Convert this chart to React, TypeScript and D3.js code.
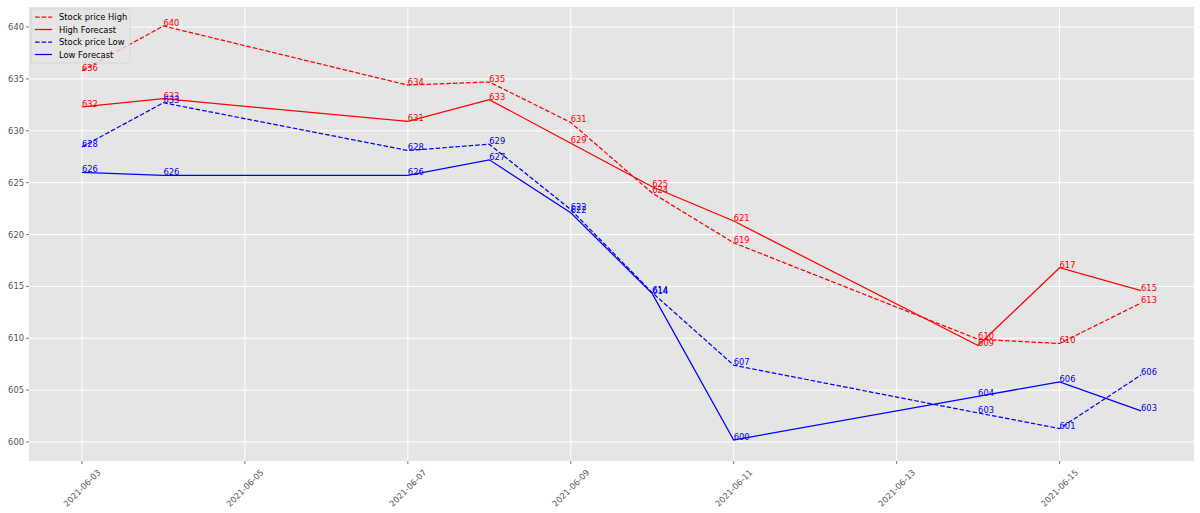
import * as React from 'react';
import * as d3 from 'd3';

// values
const dates = ["2021-06-03", "2021-06-04", "2021-06-07", "2021-06-08", "2021-06-09", "2021-06-10", "2021-06-11", "2021-06-14", "2021-06-15", "2021-06-16"];
const highStock = [635.8, 640.1, 634.4, 634.7, 630.8, 624.0, 619.2, 609.9, 609.5, 613.4];
const highForecast = [632.3, 633.1, 630.9, 633.0, 628.8, 624.6, 621.3, 609.3, 616.8, 614.6];
const lowStock = [628.45, 632.7, 628.1, 628.7, 622.4, 614.4, 607.4, 602.8, 601.3, 606.46];
const lowForecast = [626.0, 625.7, 625.7, 627.2, 622.1, 614.3, 600.2, 604.4, 605.8, 603.0];
const yLimits = [598.17, 641.93];
const yTicks = [600, 605, 610, 615, 620, 625, 630, 635, 640];

const seriesNames = ["Stock price High", "High Forecast", "Stock price Low", "Low Forecast"];
const seriesValues = [highStock, highForecast, lowStock, lowForecast];
const seriesColors = ["#ff0000", "#ff0000", "#0000ff", "#0000ff"];
const seriesDashed = [true, false, true, false];

const W = 1200;
const H = 513;
const plot = { left: 29, right: 1194, top: 7, bottom: 461 };
const fontSize = 8.33;
const font = "'DejaVu Sans', sans-serif";

const App: React.FC = () => {
  const svgRef = React.useRef<SVGSVGElement>(null);

  React.useEffect(() => {
    const svg = d3.select(svgRef.current);
    svg.selectAll("*").remove();

    const parse = d3.utcParse("%Y-%m-%d");
    const xs = dates.map((d) => parse(d) as Date);
    const [x0, x1] = d3.extent(xs) as [Date, Date];
    const pad = (x1.getTime() - x0.getTime()) * 0.05;

    const xScale = d3.scaleUtc()
      .domain([new Date(x0.getTime() - pad), new Date(x1.getTime() + pad)])
      .range([plot.left, plot.right]);

    const yScale = d3.scaleLinear()
      .domain(yLimits)
      .range([plot.bottom, plot.top]);

    svg.append("rect")
      .attr("x", plot.left)
      .attr("y", plot.top)
      .attr("width", plot.right - plot.left)
      .attr("height", plot.bottom - plot.top)
      .attr("fill", "#e5e5e5");

    const xTicks = xScale.ticks(d3.utcDay.every(2) as d3.TimeInterval);
    const fmt = d3.utcFormat("%Y-%m-%d");

    // grid
    const grid = svg.append("g");
    grid.selectAll(".gx").data(xTicks).enter().append("line")
      .attr("x1", (d) => xScale(d)).attr("x2", (d) => xScale(d))
      .attr("y1", plot.top).attr("y2", plot.bottom)
      .attr("stroke", "#ffffff").attr("stroke-width", 1);
    grid.selectAll(".gy").data(yTicks).enter().append("line")
      .attr("x1", plot.left).attr("x2", plot.right)
      .attr("y1", (d) => yScale(d)).attr("y2", (d) => yScale(d))
      .attr("stroke", "#ffffff").attr("stroke-width", 1);

    // ticks
    const ax = svg.append("g").attr("fill", "#555555").attr("font-family", font).attr("font-size", fontSize);
    ax.selectAll(".tx").data(xTicks).enter().append("line")
      .attr("x1", (d) => xScale(d)).attr("x2", (d) => xScale(d))
      .attr("y1", plot.bottom).attr("y2", plot.bottom + 3)
      .attr("stroke", "#555555").attr("stroke-width", 0.8);
    ax.selectAll(".lx").data(xTicks).enter().append("text")
      .attr("transform", (d) => `translate(${xScale(d)},${plot.bottom + 27}) rotate(-45)`)
      .attr("text-anchor", "middle")
      .attr("dominant-baseline", "central")
      .text((d) => fmt(d));
    ax.selectAll(".ty").data(yTicks).enter().append("line")
      .attr("x1", plot.left - 3).attr("x2", plot.left)
      .attr("y1", (d) => yScale(d)).attr("y2", (d) => yScale(d))
      .attr("stroke", "#555555").attr("stroke-width", 0.8);
    ax.selectAll(".ly").data(yTicks).enter().append("text")
      .attr("x", plot.left - 5)
      .attr("y", (d) => yScale(d))
      .attr("text-anchor", "end")
      .attr("dominant-baseline", "central")
      .text((d) => d);

    // lines
    const line = d3.line<number>()
      .x((_, i) => xScale(xs[i]))
      .y((d) => yScale(d));

    seriesValues.forEach((vals, s) => {
      svg.append("path")
        .attr("d", line(vals))
        .attr("fill", "none")
        .attr("stroke", seriesColors[s])
        .attr("stroke-width", 1.25)
        .attr("stroke-dasharray", seriesDashed[s] ? "4.6,2" : null);
    });

    // value labels
    seriesValues.forEach((vals, s) => {
      svg.append("g")
        .attr("font-family", font)
        .attr("font-size", fontSize)
        .attr("fill", seriesColors[s])
        .selectAll("text").data(vals).enter().append("text")
        .attr("x", (_, i) => xScale(xs[i]))
        .attr("y", (d) => yScale(d))
        .text((d) => Math.round(d));
    });

    // legend
    const lg = svg.append("g").attr("font-family", font).attr("font-size", fontSize);
    lg.append("rect")
      .attr("x", 31).attr("y", 9).attr("width", 99).attr("height", 54).attr("rx", 2)
      .attr("fill", "#e5e5e5").attr("fill-opacity", 0.8)
      .attr("stroke", "#cccccc").attr("stroke-opacity", 0.8).attr("stroke-width", 0.8);
    seriesNames.forEach((name, s) => {
      const y = 17 + s * 12.5;
      lg.append("line")
        .attr("x1", 35).attr("x2", 52).attr("y1", y).attr("y2", y)
        .attr("stroke", seriesColors[s]).attr("stroke-width", 1.25)
        .attr("stroke-dasharray", seriesDashed[s] ? "4.6,2" : null);
      lg.append("text")
        .attr("x", 59).attr("y", y)
        .attr("dominant-baseline", "central")
        .attr("fill", "#000000")
        .text(name);
    });
  }, []);

  return (
    <svg ref={svgRef} width={W} height={H}
      style={{ position: "absolute", left: 0, top: 0, background: "#ffffff" }}></svg>
  );
};

export default App;
